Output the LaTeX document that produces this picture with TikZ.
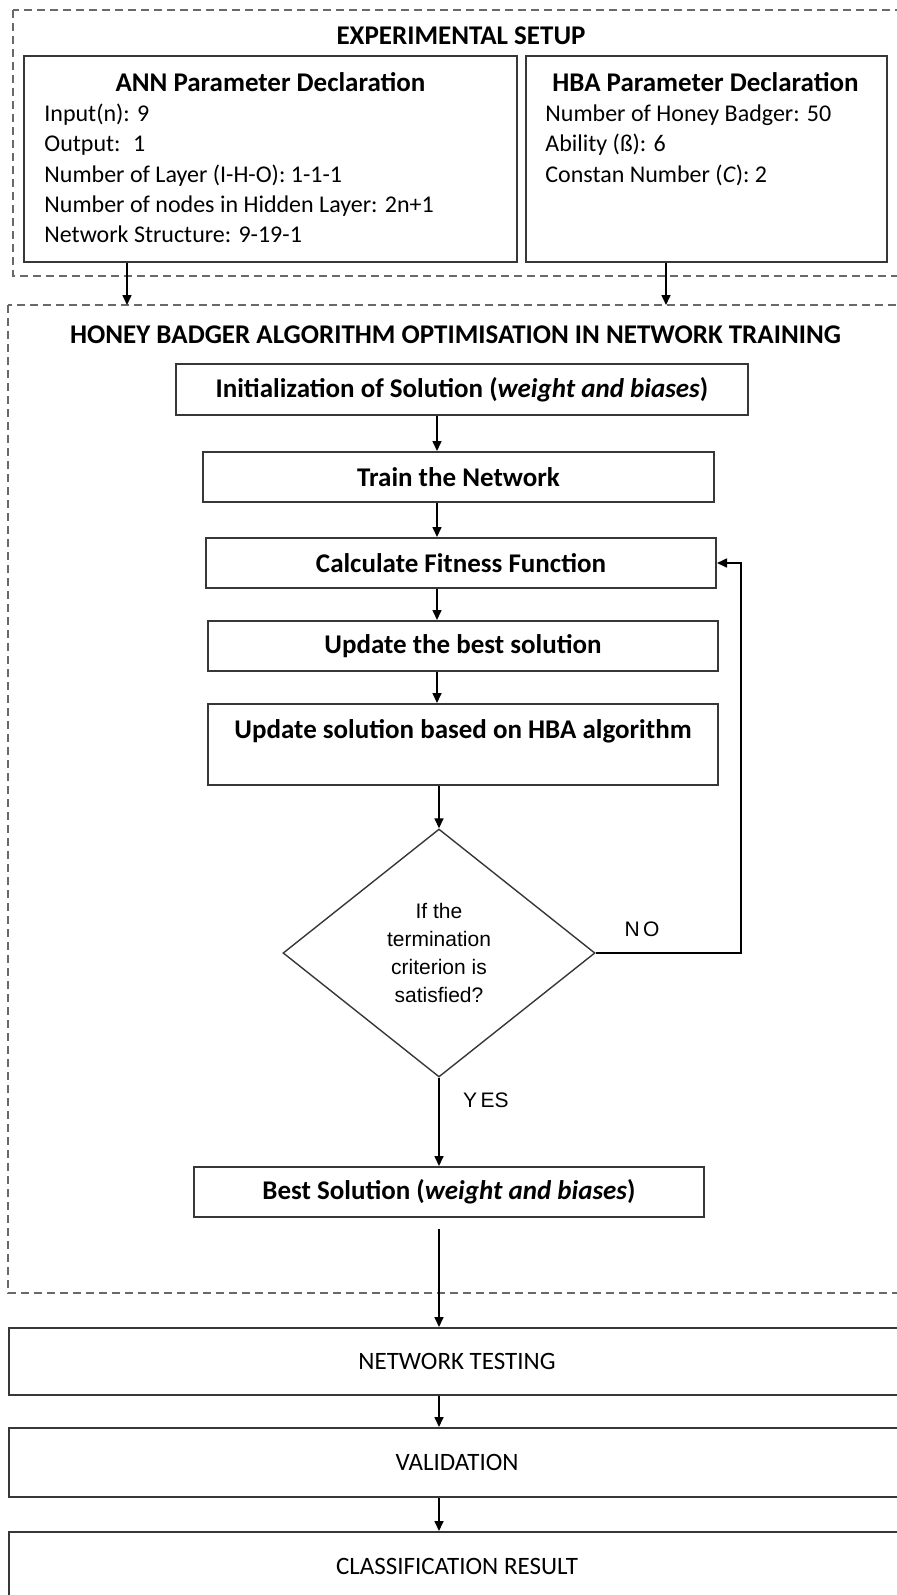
\documentclass[tikz,border=0pt]{standalone}
\usepackage{fontspec}
\setmainfont{Carlito}
\newfontfamily\diafont{Liberation Sans}
\usepackage{tikz}
\usetikzlibrary{arrows.meta,calc,positioning,shapes.geometric}
\definecolor{boxline}{RGB}{55,55,55}
\definecolor{frameline}{RGB}{105,105,105}

\begin{document}
\begin{tikzpicture}[x=0.5pt, y=-0.5pt,
  every node/.style={font=\fontsize{12}{15}\selectfont, inner sep=0pt},
  frame/.style={draw=frameline, line width=0.8pt, dash pattern=on 4pt off 2.5pt},
  parbox/.style={draw=boxline, line width=1pt, rectangle, minimum height=103pt},
  flowbox/.style={draw=boxline, line width=1pt, rectangle, minimum width=255pt, minimum height=25pt,
    align=center, font=\fontsize{13.5}{16}\selectfont\bfseries},
  endbox/.style={draw=boxline, line width=1pt, rectangle, minimum width=448pt, font=\fontsize{12.5}{15}\selectfont},
  head/.style={font=\fontsize{13.5}{16}\selectfont\bfseries},
  decision/.style={draw=boxline, line width=0.7pt, diamond, minimum width=156pt, minimum height=124pt,
    align=center, font=\diafont\fontsize{10.5}{14}\selectfont},
  lab/.style={font=\diafont\fontsize{10.5}{12}\selectfont},
  arr/.style={-{Triangle[width=4.5pt,length=5pt]}, line width=0.8pt}]
  \useasboundingbox (0,0) rectangle (897,1595);
  \clip (0,0) rectangle (897,1595);

  % dashed frames
  \draw[frame] (13,10) rectangle (920,276);
  \draw[frame] (8,305) rectangle (920,1293);
  \coordinate (opttop) at (0,305);
  \coordinate (annx) at (127,0);
  \coordinate (hbax) at (666,0);
  \coordinate (col) at (437,0);
  \coordinate (loop) at (741,0);

  % experimental setup
  \node[head, anchor=base] (setup) at (461,45) {EXPERIMENTAL SETUP};
  \node[parbox, minimum width=246.5pt] (ann) at (270.5,159) {};
  \node[parbox, minimum width=180.5pt] (hba) at (706.5,159) {};
  \node[head, anchor=base] (anntitle) at (270.5,92) {ANN Parameter Declaration};
  \node[head, anchor=base] (hbatitle) at (705.5,92) {HBA Parameter Declaration};
  \foreach \t [count=\i] in {Input(n): 9, Output:~ 1, Number of Layer (I-H-O): 1-1-1,
      Number of nodes in Hidden Layer: 2n+1, Network Structure: 9-19-1}
    \node[anchor=base west] (ann\i) at (44,92+30*\i) {\t};
  \foreach \t [count=\i] in {Number of Honey Badger: 50, Ability (ß): 6, Constan Number (\textit{C}): 2}
    \node[anchor=base west] (hba\i) at (545,92+30*\i) {\t};
  \draw[arr] (ann.south -| annx) -- (annx |- opttop);
  \draw[arr] (hba.south -| hbax) -- (hbax |- opttop);

  % optimisation loop
  \node[head, anchor=base] (opttitle) at (455.5,343) {HONEY BADGER ALGORITHM OPTIMISATION IN NETWORK TRAINING};
  \node[flowbox, minimum width=286pt, minimum height=25.5pt] (init) at (462,389.5) {Initialization of Solution (\textit{weight and biases})};
  \node[flowbox, minimum width=255.5pt] (train) at (458.5,477) {Train the Network};
  \node[flowbox] (calc) at (461,563) {Calculate Fitness Function};
  \node[flowbox] (best) at (463,646) {Update the best solution};
  \node[flowbox, minimum height=40.5pt] (update) at (463,744.5) {Update solution based on HBA algorithm\\ \mbox{}};
  \node[decision] (dec) at (439,953) {If the\\termination\\criterion is\\satisfied?};
  \node[flowbox] (final) at (449,1192) {Best Solution (\textit{weight and biases})};
  \node[lab] (no) at (642,929) {N\,O};
  \node[lab] (yes) at (486,1100) {Y\,ES};

  \draw[arr] (init.south -| col) -- (train.north -| col);
  \draw[arr] (train.south -| col) -- (calc.north -| col);
  \draw[arr] (calc.south -| col) -- (best.north -| col);
  \draw[arr] (best.south -| col) -- (update.north -| col);
  \draw[arr] (update.south -| dec.north) -- (dec.north);
  \draw[arr] (dec.east) -| (loop |- calc.east) -- (calc.east);
  \draw[arr] (dec.south) -- (dec.south |- final.north);

  % testing
  \node[endbox, minimum height=33.5pt] (test) at (457,1361.5) {NETWORK TESTING};
  \node[endbox, minimum height=34.5pt] (valid) at (457,1462.5) {VALIDATION};
  \node[endbox, minimum height=34pt] (result) at (457,1566) {CLASSIFICATION RESULT};
  \draw[arr, shorten <=5.5pt] (dec.south |- final.south) -- (dec.south |- test.north);
  \draw[arr] (dec.south |- test.south) -- (dec.south |- valid.north);
  \draw[arr] (dec.south |- valid.south) -- (dec.south |- result.north);
\end{tikzpicture}
\end{document}
